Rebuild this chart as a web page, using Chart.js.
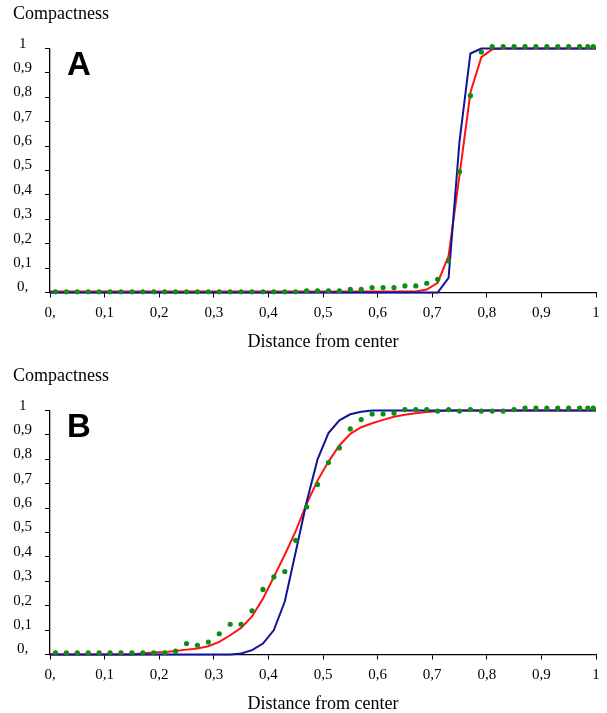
<!DOCTYPE html>
<html>
<head>
<meta charset="utf-8">
<script src="https://cdn.jsdelivr.net/npm/chart.js@4/dist/chart.umd.min.js"></script>
<style>
  body { margin: 0; background: #fff; overflow: hidden; }
  .panel { position: relative; width: 607px; height: 362px; }
</style>
</head>
<body>
<div class="panel"><canvas id="chartA"></canvas></div>
<div class="panel"><canvas id="chartB"></canvas></div>
<script>
// x positions of the curve vertices and of the measured dots
const lineX = [0, 0.01, 0.03, 0.05, 0.07, 0.09, 0.11, 0.13, 0.15, 0.17, 0.19, 0.21, 0.23, 0.25, 0.27, 0.29,
  0.31, 0.33, 0.35, 0.37, 0.39, 0.41, 0.43, 0.45, 0.47, 0.49, 0.51, 0.53, 0.55, 0.57, 0.59,
  0.61, 0.63, 0.65, 0.67, 0.69, 0.71, 0.73, 0.75, 0.77, 0.79, 0.81, 0.83, 0.85, 0.87, 0.89,
  0.91, 0.93, 0.95, 0.97, 0.99, 1];
const dotX = [0.01, 0.03, 0.05, 0.07, 0.09, 0.11, 0.13, 0.15, 0.17, 0.19, 0.21, 0.23, 0.25, 0.27, 0.29,
  0.31, 0.33, 0.35, 0.37, 0.39, 0.41, 0.43, 0.45, 0.47, 0.49, 0.51, 0.53, 0.55, 0.57, 0.59,
  0.61, 0.63, 0.65, 0.67, 0.69, 0.71, 0.73, 0.75, 0.77, 0.79, 0.81, 0.83, 0.85, 0.87, 0.89,
  0.91, 0.93, 0.95, 0.97, 0.985, 0.995];

// panel A
const aBlue = [0, 0, 0, 0, 0, 0, 0, 0, 0, 0, 0, 0, 0, 0, 0, 0,
  0, 0, 0, 0, 0, 0, 0, 0, 0, 0, 0, 0, 0, 0, 0,
  0, 0, 0, 0, 0, 0, 0.06, 0.62, 0.98, 1, 1, 1, 1, 1, 1,
  1, 1, 1, 1, 1, 1];
const aRed = [0.004, 0.004, 0.004, 0.004, 0.004, 0.004, 0.004, 0.004, 0.004, 0.004, 0.004, 0.004, 0.004, 0.004, 0.004, 0.004,
  0.004, 0.004, 0.004, 0.004, 0.004, 0.004, 0.004, 0.004, 0.004, 0.004, 0.004, 0.004, 0.004, 0.004, 0.004,
  0.004, 0.004, 0.004, 0.004, 0.012, 0.04, 0.15, 0.48, 0.82, 0.965, 0.997, 1, 1, 1, 1,
  1, 1, 1, 1, 1, 1];
const aDots = [0.003, 0.003, 0.003, 0.003, 0.003, 0.003, 0.003, 0.003, 0.003, 0.003, 0.003, 0.003, 0.003, 0.003, 0.003,
  0.003, 0.003, 0.003, 0.003, 0.003, 0.003, 0.003, 0.003, 0.007, 0.007, 0.007, 0.007, 0.013, 0.013, 0.02,
  0.02, 0.02, 0.027, 0.027, 0.038, 0.054, 0.13, 0.495, 0.807, 0.986, 1.008, 1.008, 1.008, 1.008, 1.008,
  1.008, 1.008, 1.008, 1.008, 1.008, 1.008];

// panel B
const bBlue = [0, 0, 0, 0, 0, 0, 0, 0, 0, 0, 0, 0, 0, 0, 0, 0,
  0, 0, 0.004, 0.018, 0.045, 0.10, 0.217, 0.42, 0.625, 0.80, 0.908, 0.96, 0.985, 0.995, 1,
  1, 1, 1, 1, 1, 1, 1, 1, 1, 1, 1, 1, 1, 1, 1,
  1, 1, 1, 1, 1, 1];
const bRed = [0, 0, 0, 0, 0, 0, 0, 0, 0, 0.005, 0.008, 0.01, 0.014, 0.02, 0.025, 0.034,
  0.052, 0.079, 0.109, 0.156, 0.229, 0.318, 0.409, 0.506, 0.618, 0.713, 0.791, 0.857, 0.905, 0.932, 0.948,
  0.962, 0.975, 0.983, 0.989, 0.994, 0.997, 1, 1, 1, 1, 1, 1, 1, 1, 1,
  1, 1, 1, 1, 1, 1];
const bDots = [0.007, 0.007, 0.007, 0.007, 0.007, 0.007, 0.007, 0.007, 0.007, 0.007, 0.007, 0.0135, 0.045, 0.038, 0.051,
  0.085, 0.124, 0.124, 0.179, 0.267, 0.318, 0.34, 0.468, 0.605, 0.697, 0.787, 0.847, 0.925, 0.963, 0.986,
  0.986, 0.99, 1.004, 1.004, 1.004, 0.998, 1.004, 0.998, 1.004, 0.998, 0.998, 0.998, 1.004, 1.01, 1.01,
  1.01, 1.01, 1.01, 1.01, 1.01, 1.01];

const tickValues = [0, 0.1, 0.2, 0.3, 0.4, 0.5, 0.6, 0.7, 0.8, 0.9, 1];
const tickLabels = ['0,', '0,1', '0,2', '0,3', '0,4', '0,5', '0,6', '0,7', '0,8', '0,9', '1'];

const serif = '"Liberation Serif", "Times New Roman", serif';

const panelLetter = {
  id: 'panelLetter',
  afterDraw(chart, args, opts) {
    const { ctx, chartArea } = chart;
    ctx.save();
    ctx.font = 'bold 33px "Liberation Sans", Arial, sans-serif';
    ctx.fillStyle = '#000';
    ctx.textBaseline = 'alphabetic';
    ctx.fillText(opts.text, chartArea.left + 17, chartArea.top + 26);
    ctx.restore();
  }
};

function pts(xs, ys) {
  return xs.map((x, i) => ({ x: x, y: ys[i] }));
}

function axisOpts(title) {
  return {
    type: 'linear',
    min: 0,
    max: 1,
    afterBuildTicks: (axis) => { axis.ticks = tickValues.map(v => ({ value: v })); },
    border: { display: true, color: '#000', width: 1.3 },
    grid: { drawOnChartArea: false, drawTicks: true, tickLength: 5, color: '#000', lineWidth: 1 },
    ticks: {
      autoSkip: false,
      color: '#000',
      font: { family: serif, size: 15 },
      callback: (v, i) => tickLabels[i]
    },
    title: title
  };
}

function makeChart(id, letter, red, blue, dots) {
  const x = axisOpts({
    display: true,
    text: 'Distance from center',
    color: '#000',
    font: { family: serif, size: 18 },
    padding: { top: 8, bottom: 0 }
  });
  x.ticks.padding = 7;
  x.afterFit = (axis) => { axis.height = 60.3; };
  const y = axisOpts({ display: false });
  y.ticks.padding = 13;
  y.ticks.crossAlign = 'center';
  y.ticks.labelOffset = -5;
  y.afterFit = (axis) => { axis.width = 37; };

  new Chart(document.getElementById(id).getContext('2d'), {
    type: 'line',
    data: {
      datasets: [{
        label: 'measured',
        data: pts(dotX, dots),
        showLine: false,
        pointRadius: 2.6,
        pointBorderWidth: 0,
        pointBackgroundColor: '#0b8f12',
        clip: false
      }, {
        label: 'model 1',
        data: pts(lineX, blue),
        borderColor: '#13139a',
        borderWidth: 2,
        pointRadius: 0,
        tension: 0,
        clip: false
      }, {
        label: 'model 2',
        data: pts(lineX, red),
        borderColor: '#ff1414',
        borderWidth: 2,
        pointRadius: 0,
        tension: 0,
        clip: false
      }]
    },
    options: {
      responsive: true,
      maintainAspectRatio: false,
      animation: false,
      layout: { padding: { left: 13, right: 11, top: 0, bottom: 9.2 } },
      scales: { x: x, y: y },
      plugins: {
        legend: { display: false },
        tooltip: { enabled: false },
        title: {
          display: true,
          text: 'Compactness',
          align: 'start',
          color: '#000',
          font: { family: serif, size: 18, weight: 'normal' },
          padding: { top: 3, bottom: 24 }
        },
        panelLetter: { text: letter }
      }
    },
    plugins: [panelLetter]
  });
}

makeChart('chartA', 'A', aRed, aBlue, aDots);
makeChart('chartB', 'B', bRed, bBlue, bDots);
</script>
</body>
</html>
